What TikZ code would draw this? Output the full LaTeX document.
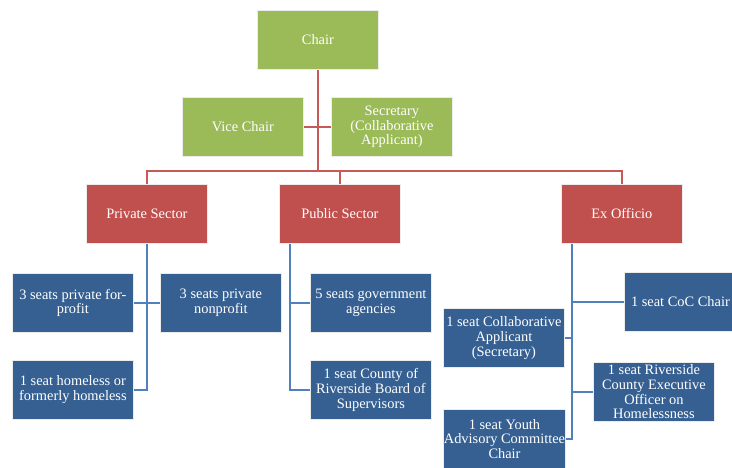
\documentclass[tikz,border=0pt]{standalone}
\usepackage{fontspec}
\setmainfont{Liberation Serif}
\definecolor{gfill}{HTML}{9BBB59}
\definecolor{rfill}{HTML}{C0504D}
\definecolor{bfill}{HTML}{366092}
\definecolor{rlinec}{HTML}{C55A57}
\definecolor{blinec}{HTML}{4F81BD}
\tikzset{
  box/.style={draw=white!85!gray, line width=0.8pt, minimum width=121pt, minimum height=59pt,
    align=center, text=white, font=\fontsize{14.4}{14.7}\selectfont, inner xsep=0.5pt, inner ysep=2pt, anchor=north west},
  gbox/.style={box, fill=gfill},
  rbox/.style={box, fill=rfill},
  bbox/.style={box, fill=bfill},
  rline/.style={draw=rlinec, line width=1.7pt},
  bline/.style={draw=blinec, line width=1.7pt}
}
\begin{document}
\begin{tikzpicture}[x=1pt,y=-1pt]
\path[use as bounding box, clip] (0,0) rectangle (732,468);
\fill[white] (0,0) rectangle (732,468);
% level 0/1
\node[gbox] (chair) at (257,10) {Chair};
\node[gbox] (vice) at (182,97) {Vice Chair};
\node[gbox] (sec) at (331,97) {Secretary\\(Collaborative\\Applicant)};
% level 2
\node[rbox] (priv) at (86,184) {Private Sector};
\node[rbox] (pub) at (279,184) {Public Sector};
\node[rbox] (exo) at (561,184) {Ex Officio};
% private children
\node[bbox] (pf) at (12,273) {3 seats private for-\\profit};
\node[bbox] (pn) at (160,273) {3 seats private\\nonprofit};
\node[bbox] (hl) at (12,360) {1 seat homeless or\\formerly homeless};
% public children
\node[bbox] (gov) at (310,273) {5 seats government\\agencies};
\node[bbox] (bos) at (310,360) {1 seat County of\\Riverside Board of\\Supervisors};
% ex officio children
\node[bbox] (coc) at (624,272) {1 seat CoC Chair\hspace*{9pt}};
\node[bbox] (ca) at (443,308) {1 seat Collaborative\\Applicant\\(Secretary)};
\node[bbox] (rc) at (593,362) {1 seat Riverside\\County Executive\\Officer on\\Homelessness};
\node[bbox] (yac) at (443,409) {1 seat Youth\\Advisory Committee\\Chair};
% red connectors
\coordinate (bus) at (318,171);
\draw[rline] (chair.south) -- (chair.south |- bus);
\draw[rline] (vice.east) -- (sec.west);
\draw[rline] (priv.north) -- (priv.north |- bus) -- (exo.north |- bus) -- (exo.north);
\draw[rline] (pub.north) -- (pub.north |- bus);
% blue connectors
\draw[bline] (priv.south) |- (hl.east);
\draw[bline] (pf.east) -- (pn.west);
\coordinate (pubt) at ([xshift=11pt]pub.south west);
\draw[bline] (pubt) |- (bos.west);
\draw[bline] (gov.west) -- (gov.west -| pubt);
\coordinate (exot) at ([xshift=11pt]exo.south west);
\draw[bline] (exot) |- (yac.east);
\draw[bline] (coc.west) -- (coc.west -| exot);
\draw[bline] (ca.east) -- (ca.east -| exot);
\draw[bline] (rc.west) -- (rc.west -| exot);
\end{tikzpicture}
\end{document}
